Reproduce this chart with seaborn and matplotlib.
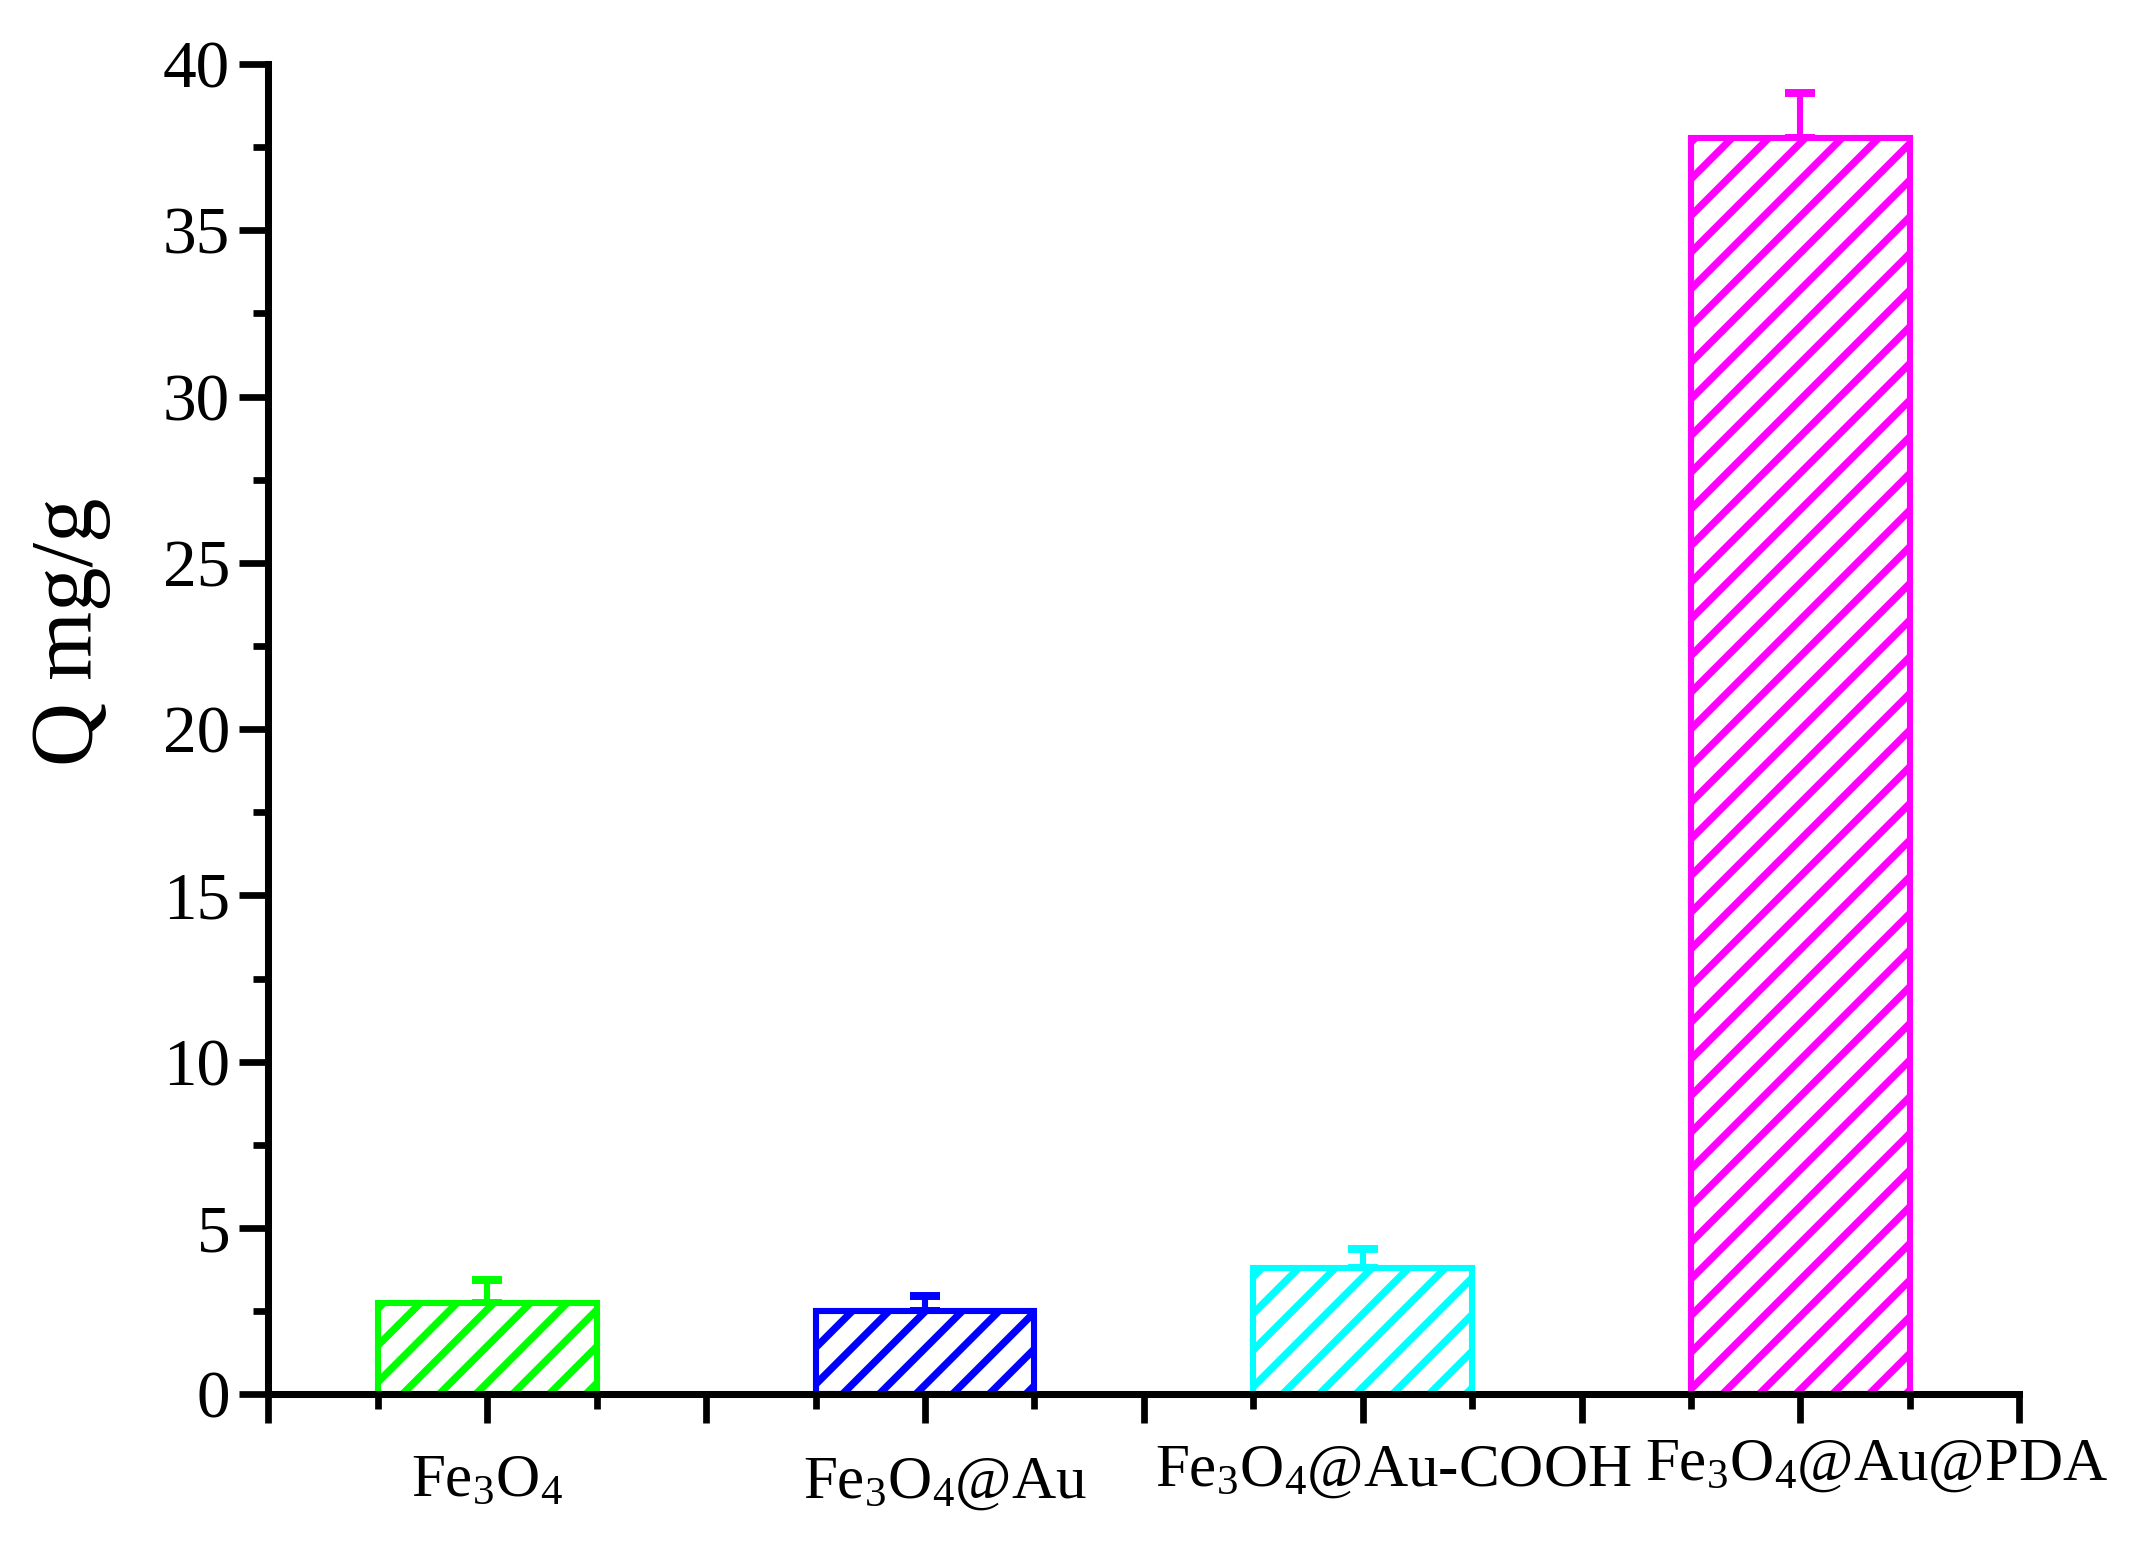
import numpy as np
import matplotlib
matplotlib.use('Agg')
import matplotlib.pyplot as plt
import matplotlib.transforms as mtransforms
import seaborn as sns
from matplotlib.ticker import FixedLocator, FixedFormatter, MultipleLocator

# data
samples = ['Fe$_3$O$_4$', 'Fe$_3$O$_4$@Au', 'Fe$_3$O$_4$@Au-COOH', 'Fe$_3$O$_4$@Au@PDA']
q_values = [2.74, 2.49, 3.80, 37.79]
q_errors = [0.69, 0.45, 0.57, 1.35]
bar_colors = ['#00FF00', '#0000FF', '#00FFFF', '#FF00FF']
# small label shifts (pixels) seen in the original figure
label_dx = [0, 20, 31, 76]
label_dy = [-8, -12, 0, 6]

sns.set_style('ticks')
plt.rcParams['font.family'] = ['Liberation Serif', 'DejaVu Serif']
plt.rcParams['mathtext.fontset'] = 'custom'
plt.rcParams['mathtext.rm'] = 'Liberation Serif'
plt.rcParams['mathtext.it'] = 'Liberation Serif:italic'
plt.rcParams['hatch.linewidth'] = 2.4
plt.rcParams['text.color'] = 'black'
plt.rcParams['xtick.color'] = 'black'
plt.rcParams['ytick.color'] = 'black'
plt.rcParams['axes.edgecolor'] = 'black'
plt.rcParams['axes.labelcolor'] = 'black'

dpi = 220
fig = plt.figure(figsize=(2130 / dpi, 1544 / dpi), dpi=dpi)
ax = fig.add_axes([0.126, 0.097, 0.822, 0.8615])

sns.barplot(x=samples, y=q_values, hue=samples, palette=bar_colors, width=0.5,
            legend=False, ax=ax, zorder=3)
for patch, col in zip(ax.patches, bar_colors):
    patch.set_facecolor('white')
    patch.set_edgecolor(col)
    patch.set_hatch('//')
    patch.set_linewidth(2.0)

for i in range(len(samples)):
    ax.errorbar(i, q_values[i], yerr=[[0], [q_errors[i]]], fmt='none',
                ecolor=bar_colors[i], elinewidth=2.0, capsize=5, capthick=2.6, zorder=2)

ax.set_xlim(-0.5, 3.5)
ax.set_ylim(0, 40)

major_x = np.arange(-0.5, 3.51, 0.5)
major_lab = []
for v in major_x:
    if abs(v - round(v)) < 1e-6 and 0 <= round(v) < len(samples):
        major_lab.append(samples[int(round(v))])
    else:
        major_lab.append('')
ax.xaxis.set_major_locator(FixedLocator(major_x))
ax.xaxis.set_major_formatter(FixedFormatter(major_lab))
ax.xaxis.set_minor_locator(FixedLocator(np.arange(-0.25, 3.5, 0.5)))
ax.yaxis.set_major_locator(MultipleLocator(5))
ax.yaxis.set_minor_locator(MultipleLocator(2.5))

ax.tick_params(axis='both', which='major', direction='out', length=9.5, width=2.2)
ax.tick_params(axis='both', which='minor', direction='out', length=5, width=2.2)
ax.tick_params(axis='x', which='major', labelsize=20, pad=7)
ax.tick_params(axis='y', which='major', labelsize=22, pad=3)

sns.despine(ax=ax)
for side in ['left', 'bottom']:
    ax.spines[side].set_linewidth(2.3)
    ax.spines[side].set_zorder(4)

# move the category labels a little, as in the original
k = 0
for lab in ax.get_xticklabels():
    if lab.get_text() == '':
        continue
    shift = mtransforms.ScaledTranslation(label_dx[k] / dpi, label_dy[k] / dpi, fig.dpi_scale_trans)
    lab.set_transform(lab.get_transform() + shift)
    k += 1

ax.set_xlabel('')
ax.set_ylabel('Q mg/g', fontsize=29)
ax.yaxis.set_label_coords(-0.09, 0.573)

fig.savefig('out.png', dpi=dpi, facecolor='white')
